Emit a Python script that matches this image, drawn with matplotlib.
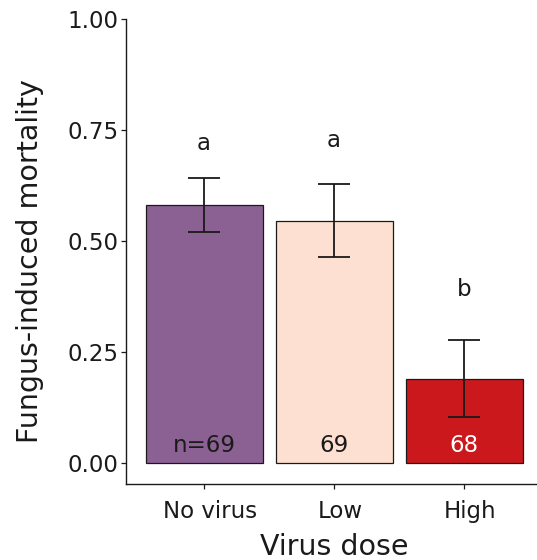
import matplotlib
matplotlib.use("Agg")
import matplotlib.pyplot as plt
import matplotlib.transforms as mtransforms

categories = ["No virus", "Low", "High"]
mortality = [0.58, 0.546, 0.190]
err_low = [0.520, 0.464, 0.103]
err_high = [0.642, 0.628, 0.278]
letters = ["a", "a", "b"]
letter_y = [0.72, 0.727, 0.39]
counts = ["n=69", "69", "68"]
count_colors = ["#1a1a1a", "#1a1a1a", "white"]
bar_colors = ["#8b6093", "#fee0d2", "#cb181d"]
yticks = [0.00, 0.25, 0.50, 0.75, 1.00]

plt.rcParams['font.family'] = ['DejaVu Sans']
fig = plt.figure(figsize=(5.37, 5.6), dpi=100)
ax = fig.add_axes([126/537, 76/560, (542-126)/537, (484-19)/560])

x = list(range(1, len(categories) + 1))
ax.bar(x, mortality, width=0.9, color=bar_colors, edgecolor="#1a1a1a", linewidth=0.9, zorder=2)
yerr = [[m - lo for m, lo in zip(mortality, err_low)], [hi - m for m, hi in zip(mortality, err_high)]]
ax.errorbar(x, mortality, yerr=yerr, fmt="none", ecolor="#1a1a1a", elinewidth=1.3,
            capsize=11.5, capthick=1.3, zorder=3)

for xi, lab, ly in zip(x, letters, letter_y):
    ax.text(xi, ly, lab, ha="center", va="center", fontsize=16.5, color="#1a1a1a")
for xi, c, cc in zip(x, counts, count_colors):
    ax.text(xi, 0.04, c, ha="center", va="center", fontsize=16.5, color=cc, zorder=4)

ax.set_xlim(0.4, 3.6)
ax.set_ylim(-0.0473, 1.0)
ax.set_yticks(yticks)
ax.set_yticklabels([f"{v:.2f}" for v in yticks])
ax.set_xticks(x)
ax.set_xticklabels(categories)
ax.tick_params(axis="both", labelsize=16.5, colors="#1a1a1a", length=3.5, width=0.9)
ax.tick_params(axis="y", pad=2)
ax.tick_params(axis="x", pad=8)
for lbl in ax.get_xticklabels():
    lbl.set_transform(lbl.get_transform() + mtransforms.ScaledTranslation(6/100, 0, fig.dpi_scale_trans))

for s in ["top", "right"]:
    ax.spines[s].set_visible(False)
for s in ["left", "bottom"]:
    ax.spines[s].set_linewidth(1.0)
    ax.spines[s].set_color("#1a1a1a")

ax.set_xlabel("Virus dose", fontsize=20.5, color="#1a1a1a", labelpad=7)
fig.text(30/537, 1 - 261/560, "Fungus-induced mortality", rotation=90, ha="center", va="center",
         fontsize=20.5, color="#1a1a1a")

fig.savefig("out.png", dpi=100)
